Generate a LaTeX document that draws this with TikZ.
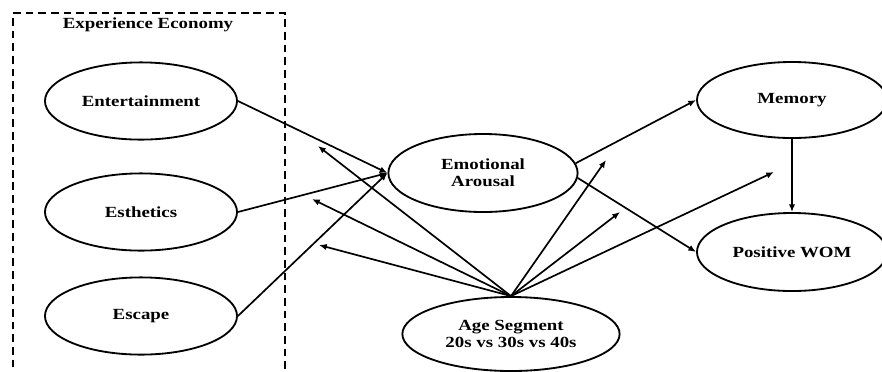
\documentclass[tikz,border=0pt]{standalone}
\usepackage{fontspec}
\setmainfont{Liberation Serif}[FakeStretch=1.22]
\usetikzlibrary{arrows.meta, positioning, shapes.geometric}

\begin{document}
\begin{tikzpicture}[
  x=0.025cm, y=-0.025cm,
  construct/.style={ellipse, draw, line width=1.3pt, inner sep=0pt, minimum width=4.8cm, minimum height=1.93cm, align=center, font=\fontsize{11}{12.2}\selectfont\bfseries},
  arrow/.style={-{Latex[length=5.5pt, width=4.5pt]}, line width=1.2pt},
  frame/.style={line width=1.2pt, dash pattern=on 5.5pt off 3.5pt}
]

\useasboundingbox (0,0) rectangle (882,371);

% Experience Economy frame
\draw[frame] (13,380) |- (285,13) -- (285,380);
\node[font=\fontsize{11}{12}\selectfont\bfseries] (title) at (148,25) {Experience Economy};

% Nodes
\node[construct] (ent) at (141,101) {Entertainment};
\node[construct] (est) at (141,212) {Esthetics};
\node[construct] (esc) at (141,316) {Escape};
\node[construct, minimum width=4.73cm, minimum height=1.95cm] (emo) at (483,173) {Emotional\\Arousal};
\node[construct, minimum width=5.43cm, minimum height=1.85cm] (age) at (511,334) {Age Segment\\20s vs 30s vs 40s};
\node[construct, minimum width=4.75cm, minimum height=1.9cm] (mem) at (792,100) {Memory};
\node[construct, minimum width=4.75cm, minimum height=1.95cm] (wom) at (792,252) {Positive WOM};

% Free ends of the moderating arrows
\coordinate (m1) at (318,146);
\coordinate (m2) at (312,199);
\coordinate (m3) at (319,245);
\coordinate (m4) at (606,160);
\coordinate (m5) at (620,212);
\coordinate (m6) at (774,172);

% Experience dimensions -> arousal
\draw[arrow] (ent.east) -- (emo.west);
\draw[arrow] (est.east) -- (emo.west);
\draw[arrow] (esc.east) -- (emo.west);

% Arousal -> outcomes
\draw[arrow] (emo.6) -- (mem.west);
\draw[arrow] (emo.-3) -- (wom.west);
\draw[arrow] (mem.south) -- (wom.north);

% Age segment as moderator
\foreach \m in {m1, m2, m3, m4, m5, m6}
  \draw[arrow] (age.north) -- (\m);

\end{tikzpicture}
\end{document}
